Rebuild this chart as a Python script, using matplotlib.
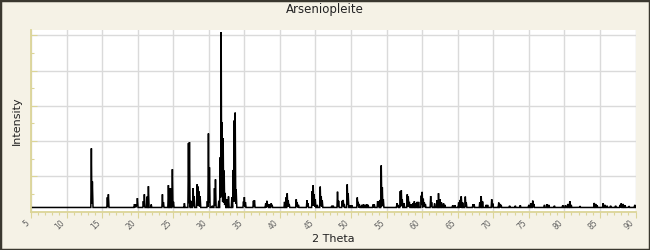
import numpy as np
import matplotlib
matplotlib.use("Agg")
import matplotlib.pyplot as plt
from matplotlib.patches import Rectangle
from matplotlib.ticker import MultipleLocator, FixedLocator

title = "Arseniopleite"
xlabel = "2 Theta"
ylabel = "Intensity"

peak_pos = [13.49, 13.63, 15.74, 15.88, 19.55, 19.70, 19.85, 19.96, 20.80, 20.94,
            21.32, 21.51, 21.90, 23.48, 23.62, 24.32, 24.52, 24.70, 24.88, 25.03,
            26.57, 27.14, 27.28, 27.47, 27.80, 27.94, 28.36, 28.50, 28.64, 28.78,
            29.80, 29.95, 30.09, 30.50, 30.80, 30.94, 31.40, 31.60, 31.74, 31.88,
            32.02, 32.16, 32.30, 32.54, 32.77, 33.24, 33.43, 33.57, 33.71, 33.85,
            34.88, 35.00, 35.15, 36.28, 36.42, 38.00, 38.17, 38.30, 38.60, 38.78,
            38.90, 40.65, 40.85, 41.03, 41.17, 41.30, 42.30, 42.43, 42.60, 43.80,
            43.94, 44.54, 44.68, 44.82, 44.97, 45.25, 45.67, 45.81, 45.95, 47.30,
            47.50, 48.10, 48.25, 48.77, 48.90, 49.05, 49.47, 49.60, 49.90, 50.10,
            50.88, 51.00, 51.16, 51.50, 51.75, 52.00, 52.20, 52.40, 53.10, 53.27,
            53.74, 53.87, 54.07, 54.25, 54.40, 54.54, 56.46, 56.60, 56.93, 57.07,
            57.20, 57.45, 57.91, 58.05, 58.20, 58.48, 58.70, 58.90, 59.10, 59.30,
            59.50, 59.88, 60.00, 60.16, 60.30, 60.45, 61.20, 61.33, 61.75, 62.10,
            62.30, 62.50, 62.70, 63.00, 63.20, 64.30, 64.60, 65.13, 65.33, 65.50,
            65.70, 66.07, 66.20, 67.15, 67.30, 68.10, 68.30, 68.50, 69.00, 69.20,
            69.78, 69.93, 70.77, 70.95, 71.10, 72.30, 73.10, 73.80, 75.00, 75.27,
            75.55, 75.70, 77.20, 77.57, 77.80, 78.60, 79.77, 80.15, 80.48, 80.76,
            80.96, 82.20, 84.20, 84.40, 84.60, 85.45, 85.70, 86.00, 86.50, 87.20,
            87.85, 88.00, 88.27, 88.50, 89.10, 89.90]
peak_int = [33.7, 14.8, 5.8, 7.5, 1.9, 1.9, 1.9, 5.3, 3.6, 7.5,
            6.2, 12.1, 1.7, 7.5, 3.0, 12.7, 11.0, 11.0, 21.8, 3.2,
            2.4, 36.7, 37.3, 3.8, 11.0, 6.3, 13.2, 11.9, 9.1, 6.5,
            3.6, 42.2, 22.9, 1.0, 11.0, 16.0, 3.8, 28.6, 100.0, 48.5,
            39.4, 21.0, 8.3, 4.7, 6.3, 5.9, 21.4, 49.6, 54.1, 10.2,
            3.4, 5.9, 3.0, 3.8, 4.1, 2.3, 3.8, 2.0, 1.9, 2.4,
            1.5, 3.2, 5.7, 8.1, 4.1, 2.0, 4.7, 2.8, 1.5, 4.1,
            2.4, 9.3, 12.7, 7.4, 4.7, 1.5, 11.9, 6.4, 4.1, 1.0,
            1.0, 9.0, 3.8, 3.8, 4.3, 2.0, 13.2, 8.1, 1.3, 1.3,
            5.7, 3.2, 2.0, 1.5, 1.8, 1.5, 1.8, 1.5, 1.7, 1.7,
            3.6, 3.4, 4.3, 24.0, 11.5, 4.7, 2.4, 1.5, 9.3, 9.8,
            4.7, 2.5, 7.5, 6.2, 3.2, 1.9, 2.5, 3.5, 2.5, 3.2,
            3.2, 6.8, 8.9, 5.0, 3.0, 2.0, 6.5, 3.0, 2.3, 4.1,
            8.1, 4.7, 3.0, 2.4, 1.5, 1.3, 1.3, 2.8, 4.3, 6.4,
            2.8, 6.2, 2.8, 1.9, 1.9, 3.0, 6.5, 3.4, 1.5, 1.5,
            4.7, 2.3, 2.8, 2.0, 1.5, 1.0, 1.0, 1.3, 1.5, 2.5,
            3.9, 2.0, 1.5, 1.9, 1.5, 1.0, 1.3, 1.3, 2.0, 3.6,
            1.5, 0.8, 2.6, 2.0, 1.3, 2.4, 1.5, 1.0, 1.0, 1.0,
            1.5, 2.4, 2.0, 1.3, 0.8, 1.5]

x_ticks = [5, 10, 15, 20, 25, 30, 35, 40, 45, 50, 55, 60, 65, 70, 75, 80, 85, 90]

# build a stick-like profile from the peak list
pos = np.array(peak_pos)
inten = np.array(peak_int)
xg = np.arange(5.0, 90.0001, 0.01)
hw = 0.075
prof = np.zeros_like(xg)
for p, h in zip(pos, inten):
    tri = h * np.clip(1 - np.abs(xg - p) / hw, 0, None)
    prof = np.maximum(prof, tri)

bg = "#f5f2e6"
axis_col = "#dcd598"
grid_col = "#dadada"

fig = plt.figure(figsize=(6.5, 2.5), dpi=100, facecolor=bg)
ax = fig.add_axes([31 / 650, 38.5 / 250, 604.5 / 650, 181.5 / 250])
ax.set_facecolor("white")

ax.plot(xg, prof, color="black", lw=1.1, solid_joinstyle="miter")

ax.set_xlim(5, 90)
y0, step = -2.3, 20.1
ax.set_ylim(y0, 101.2)

ax.set_xticks(x_ticks)
ax.set_xticklabels([str(t) for t in x_ticks], rotation=45, ha="right",
                   fontsize=5.5, color="#606060")
ax.xaxis.set_minor_locator(MultipleLocator(1))
ymaj = [y0 + step * k for k in range(6)]
ymin = [y0 + step * (k + 0.5) for k in range(5)]
ax.yaxis.set_major_locator(FixedLocator(ymaj))
ax.yaxis.set_minor_locator(FixedLocator(ymin))
ax.set_yticklabels([])

ax.tick_params(axis="x", which="major", direction="out", length=4, width=0.8,
               color=axis_col, pad=1)
ax.tick_params(axis="x", which="minor", direction="out", length=2.5, width=0.8,
               color=axis_col)
ax.tick_params(axis="y", which="major", direction="in", length=4, width=0.8,
               color=axis_col)
ax.tick_params(axis="y", which="minor", direction="in", length=2.5, width=0.8,
               color=axis_col)

ax.grid(True, which="major", color=grid_col, lw=1.0)
ax.set_axisbelow(True)
for s in ["top", "right"]:
    ax.spines[s].set_visible(False)
for s in ["left", "bottom"]:
    ax.spines[s].set_color(axis_col)
    ax.spines[s].set_linewidth(1.3)

ax.set_xlabel(xlabel, fontsize=8, color="#222222", labelpad=2)
ax.set_ylabel(ylabel, fontsize=8, color="#222222", labelpad=3)
fig.text(0.5, 1 - 10 / 250, title, ha="center", va="center", fontsize=8.5,
         color="#222222")

fig.add_artist(Rectangle((0, 0), 1, 1, transform=fig.transFigure, fill=False,
                         edgecolor="#3a382f", linewidth=2.5, clip_on=False))

fig.savefig("out.png", dpi=100, facecolor=bg)
